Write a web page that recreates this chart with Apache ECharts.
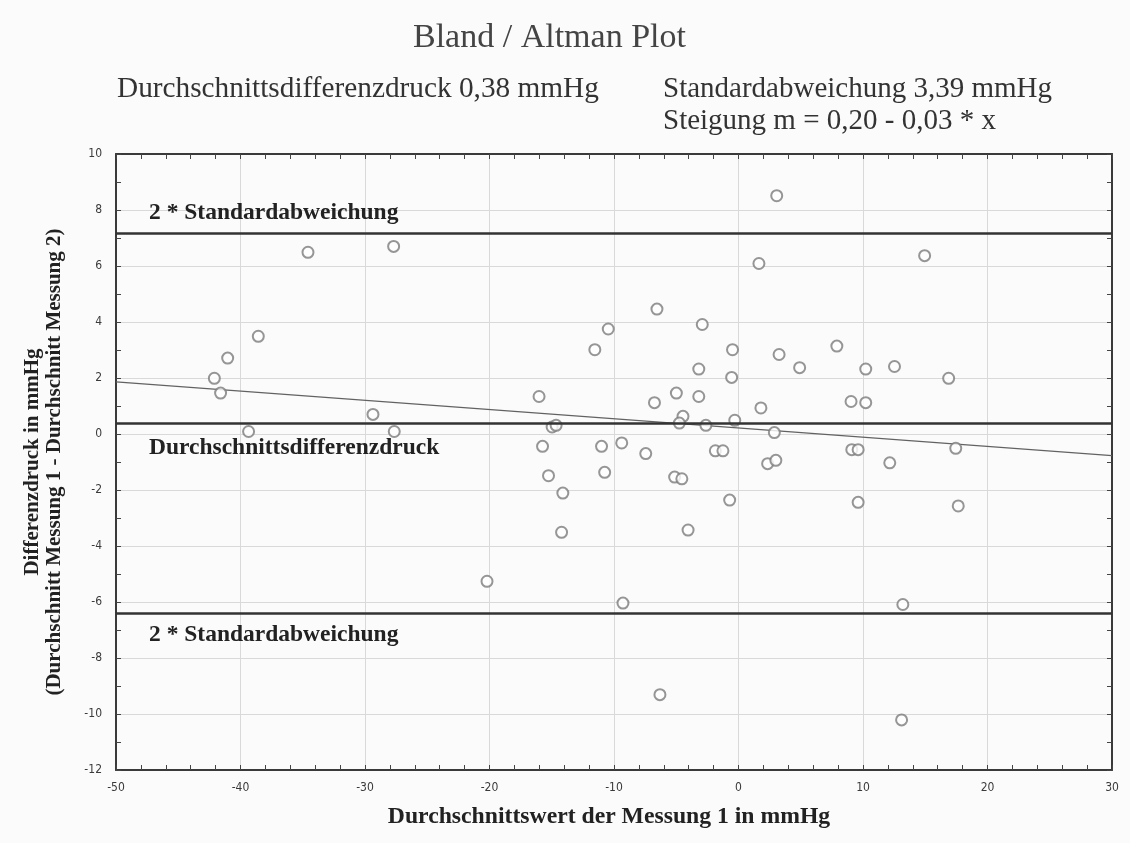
<!DOCTYPE html>
<html>
<head>
<meta charset="utf-8">
<script src="https://cdn.jsdelivr.net/npm/echarts@6/dist/echarts.min.js"></script>
<style>
html,body{margin:0;padding:0;background:#fbfbfb;}
#chart{width:1130px;height:843px;}
</style>
</head>
<body>
<div id="chart"></div>
<script>
// Data (Bland-Altman plot)
const meanValues = [
  -34.58, -27.7, -38.57, -41.03, -42.1, -41.6, -29.36, -39.35, -27.65,
  3.07, 1.64, 14.95, -6.55, -10.46, -2.91, -11.54, -0.48, 7.90, 3.26,
  4.91, -3.19, 10.22, 12.53, 16.88, -0.55, -16.02, -4.99, -3.19, -6.75,
  1.80, 9.04, 10.22, -4.46, -4.75, -0.30, -14.97, -14.65, -2.62, 2.88,
  -15.74, -11.0, -9.38, -7.45, -1.86, -1.25, 9.10, 9.61, 17.45,
  2.34, 3.00, 12.15, -15.26, -10.75, -5.13, -4.55, -14.11, -0.71, 9.61,
  17.65, -14.21, -4.05, -9.28, 13.20, -6.31, 13.10, -20.2
];
const diffValues = [
  6.49, 6.70, 3.49, 2.71, 1.99, 1.46, 0.70, 0.09, 0.09,
  8.51, 6.09, 6.37, 4.46, 3.75, 3.91, 3.01, 3.01, 3.14, 2.84,
  2.37, 2.32, 2.32, 2.41, 1.99, 2.02, 1.34, 1.46, 1.34, 1.12,
  0.93, 1.16, 1.12, 0.63, 0.39, 0.49, 0.25, 0.31, 0.31, 0.05,
  -0.44, -0.44, -0.32, -0.70, -0.60, -0.60, -0.56, -0.56, -0.51,
  -1.06, -0.94, -1.03, -1.49, -1.37, -1.54, -1.60, -2.11, -2.36, -2.44,
  -2.57, -3.51, -3.43, -6.04, -6.09, -9.31, -10.21, -5.26
];
const meanDifference = 0.38;
const upperLimit = 7.16;
const lowerLimit = -6.40;
const regressionX = [-50, 30];
const regressionY = [1.86, -0.77];
const xTicks = {min: -50, max: 30, interval: 10};
const yTicks = {min: -12, max: 10, interval: 2};

const titleText = 'Bland / Altman Plot';
const meanText = 'Durchschnittsdifferenzdruck 0,38 mmHg';
const sdText = 'Standardabweichung 3,39 mmHg';
const slopeText = 'Steigung m = 0,20 - 0,03 * x';
const limitLabel = '2 * Standardabweichung';
const meanLabel = 'Durchschnittsdifferenzdruck';
const xName = 'Durchschnittswert der Messung 1 in mmHg';
const yName = 'Differenzdruck in mmHg\n(Durchschnitt Messung 1 - Durchschnitt Messung 2)';

const points = meanValues.map((x, i) => [x, diffValues[i]]);
const regression = regressionX.map((x, i) => [x, regressionY[i]]);

const serif = '"Liberation Serif", "DejaVu Serif", serif';
const tickFont = '"Liberation Sans Narrow", "DejaVu Sans Condensed", "Liberation Sans", sans-serif';

const chart = echarts.init(document.getElementById('chart'), null, {renderer: 'canvas'});

function baseX(pos, showLabel) {
  return {
    type: 'value', position: pos, min: xTicks.min, max: xTicks.max, interval: xTicks.interval,
    axisLine: {show: true, onZero: false, lineStyle: {color: '#3a3a3a', width: 2}},
    axisTick: {show: true, inside: true, length: 5, lineStyle: {color: '#444'}},
    minorTick: {show: true, splitNumber: 5, length: 5, lineStyle: {color: '#444'}},
    axisLabel: {show: showLabel, color: '#3a3a3a', fontFamily: tickFont, fontSize: 12, margin: 12},
    splitLine: {show: showLabel, lineStyle: {color: '#d9d9d9', width: 1}},
    minorSplitLine: {show: false}
  };
}
function baseY(pos, showLabel) {
  return {
    type: 'value', position: pos, min: yTicks.min, max: yTicks.max, interval: yTicks.interval,
    axisLine: {show: true, onZero: false, lineStyle: {color: '#3a3a3a', width: 2}},
    axisTick: {show: true, inside: true, length: 5, lineStyle: {color: '#444'}},
    minorTick: {show: true, splitNumber: 2, length: 5, lineStyle: {color: '#444'}},
    axisLabel: {show: showLabel, color: '#3a3a3a', fontFamily: tickFont, fontSize: 12, margin: 14},
    splitLine: {show: showLabel, lineStyle: {color: '#d9d9d9', width: 1}},
    minorSplitLine: {show: false}
  };
}

const xBottom = baseX('bottom', true);
xBottom.name = xName;
xBottom.nameLocation = 'middle';
xBottom.nameGap = 35;
xBottom.nameTextStyle = {fontFamily: serif, fontWeight: 'bold', fontSize: 23.7, color: '#222', padding: [0, 10, 0, 0]};

const yLeft = baseY('left', true);
yLeft.name = yName;
yLeft.nameLocation = 'middle';
yLeft.nameRotate = 90;
yLeft.nameGap = 50;
yLeft.nameTextStyle = {fontFamily: serif, fontWeight: 'bold', fontSize: 21, color: '#222', lineHeight: 22, align: 'center'};

const lineLabel = (text, pos, dy) => ({
  show: true, formatter: text, position: pos, distance: [33, dy],
  fontFamily: serif, fontWeight: 'bold', fontSize: 23.5, color: '#222'
});

const option = {
  backgroundColor: '#fbfbfb',
  animation: false,
  title: [
    {text: titleText, left: 413, top: 21, padding: 0, textStyle: {fontFamily: serif, fontWeight: 'normal', fontSize: 34, color: '#444'}},
    {text: meanText, left: 117, top: 75, padding: 0, textStyle: {fontFamily: serif, fontWeight: 'normal', fontSize: 29.3, color: '#333'}},
    {text: sdText, left: 663, top: 75, padding: 0, textStyle: {fontFamily: serif, fontWeight: 'normal', fontSize: 29, color: '#333'}},
    {text: slopeText, left: 663, top: 107, padding: 0, textStyle: {fontFamily: serif, fontWeight: 'normal', fontSize: 29, color: '#333'}}
  ],
  grid: {left: 116, right: 18, top: 154, bottom: 73, containLabel: false},
  xAxis: [xBottom, baseX('top', false)],
  yAxis: [yLeft, baseY('right', false)],
  series: [
    {
      type: 'line', data: regression, xAxisIndex: 0, yAxisIndex: 0,
      showSymbol: false, symbol: 'none', silent: true,
      lineStyle: {color: '#626262', width: 1.2},
      markLine: {
        silent: true, symbol: ['none', 'none'],
        lineStyle: {color: '#333', width: 2.5, type: 'solid'},
        data: [
          {yAxis: upperLimit, label: lineLabel(limitLabel, 'insideStartTop', 9)},
          {yAxis: meanDifference, label: lineLabel(meanLabel, 'insideStartBottom', 13)},
          {yAxis: lowerLimit, label: lineLabel(limitLabel, 'insideStartBottom', 10)}
        ]
      },
      z: 3
    },
    {
      type: 'scatter', data: points, xAxisIndex: 0, yAxisIndex: 0,
      symbol: 'emptyCircle', symbolSize: 11,
      itemStyle: {color: '#7c7c7c', borderColor: '#7c7c7c', borderWidth: 2.5},
      z: 4
    }
  ]
};
chart.setOption(option);
</script>
</body>
</html>
